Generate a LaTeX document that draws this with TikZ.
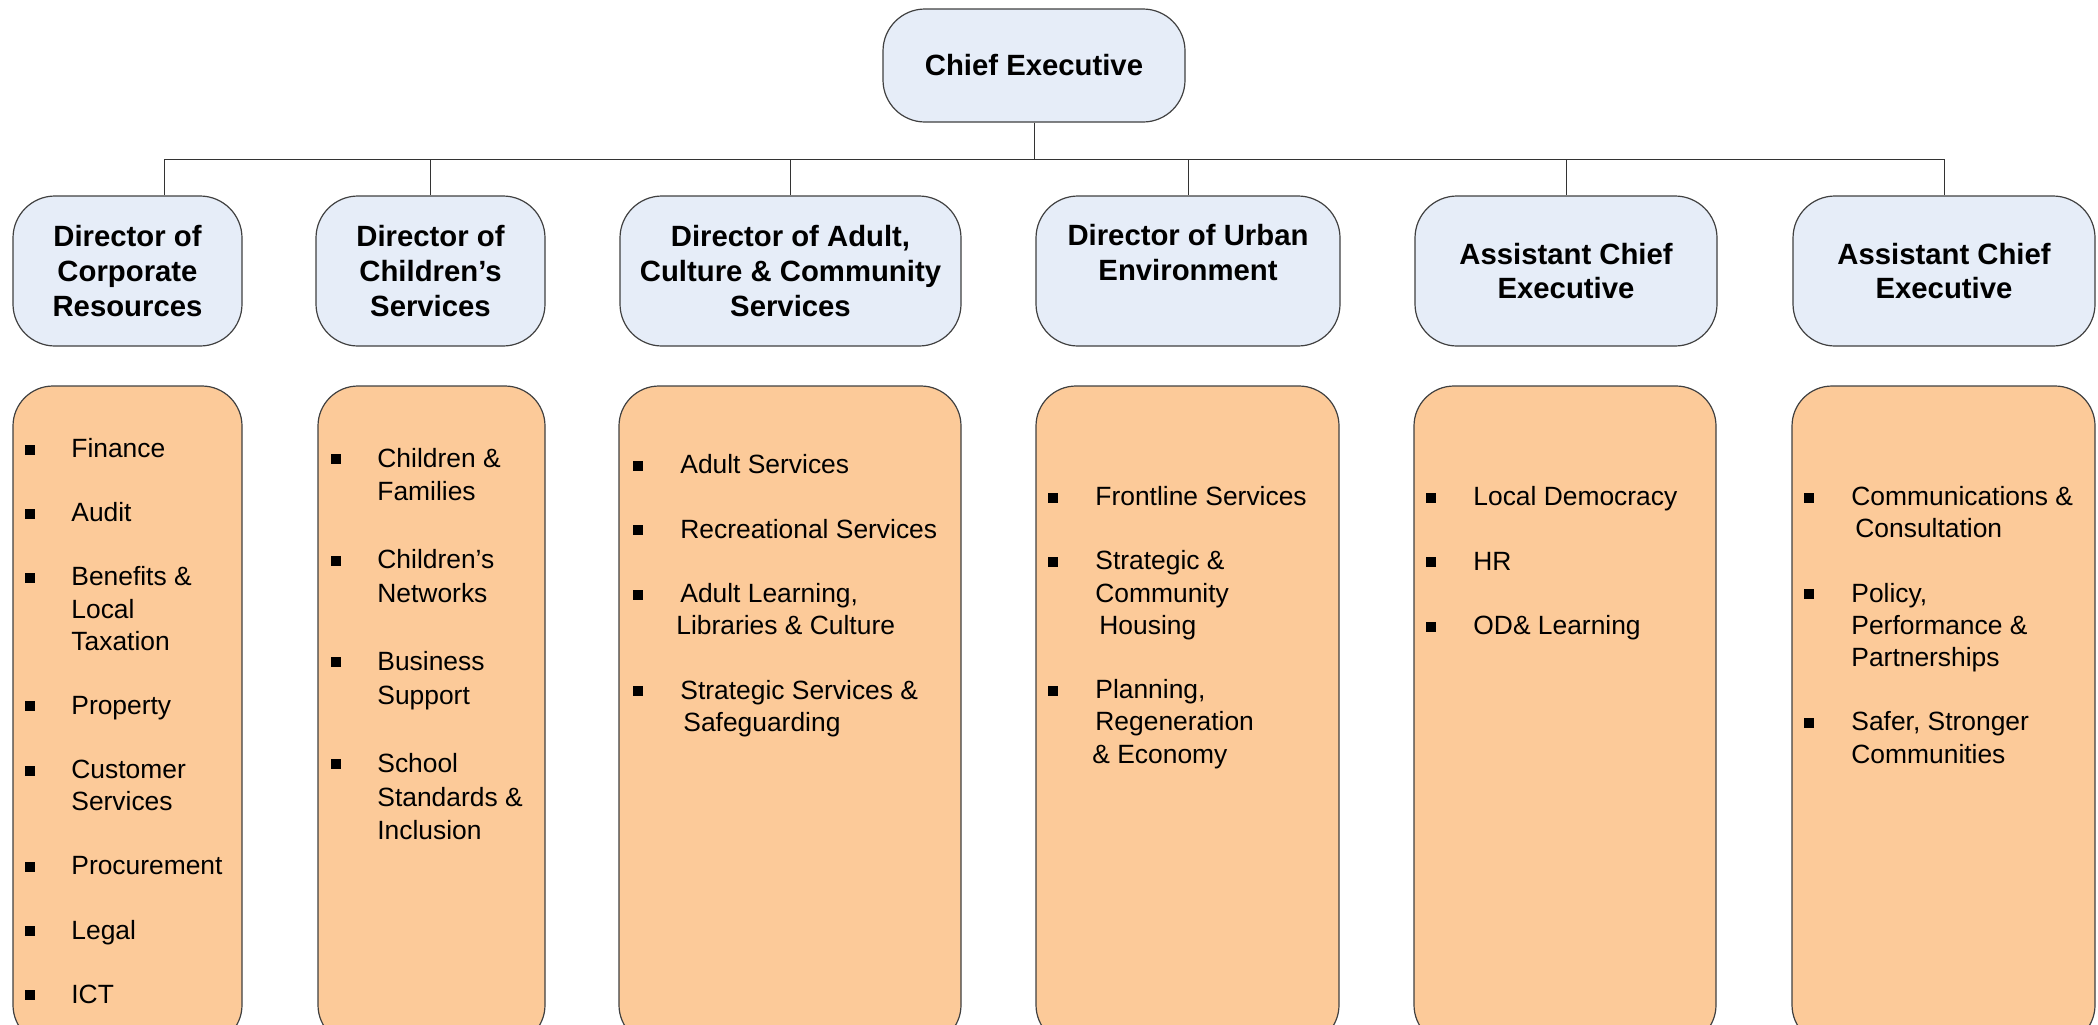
\documentclass[tikz,border=0pt]{standalone}
\usepackage{fontspec}
\setmainfont{Liberation Sans}
\usepackage{tikz}
\definecolor{hdblue}{RGB}{230,237,248}
\definecolor{lstorange}{RGB}{252,202,153}
\newcommand{\hdfont}{\fontsize{14.65}{17.4}\selectfont\bfseries}
\newcommand{\lsfont}[1]{\fontsize{13.2}{#1}\selectfont}
\newcommand{\lns}[1]{\begin{tabular}[t]{@{}l@{}}#1\end{tabular}}

\begin{document}
\begin{tikzpicture}[x=0.5pt,y=-0.5pt,
    hdbox/.style={draw=black!75,fill=hdblue,line width=0.6pt,rounded corners=21pt,
      minimum height=75pt,inner sep=0pt,align=center,font=\hdfont},
    lstbox/.style={draw=black!75,fill=lstorange,line width=0.6pt,rounded corners=20pt,
      minimum height=329.5pt,inner sep=0pt},
    blt/.style={fill=black,inner sep=0pt,minimum size=5pt},
    itm/.style={anchor=base west,inner sep=0pt},
    wire/.style={draw=black!80,line width=0.5pt}]
  \useasboundingbox (0,0) rectangle (2098,1024);
  \node[hdbox,minimum width=151pt,minimum height=56.5pt] (chief) at (1034,65.5) {Chief Executive};
  \foreach \n/\x/\w/\t in {1/127.5/114.5/{Director of\\Corporate\\Resources},
      2/430.5/114.5/{Director of\\Children’s\\Services},
      3/790.5/170.5/{Director of Adult,\\Culture \& Community\\Services},
      4/1188/152/{Director of Urban\\Environment\\[-4pt]\strut},
      5/1566/151/{Assistant Chief\\Executive},
      6/1944/151/{Assistant Chief\\Executive}}
    \node[hdbox,minimum width=\w pt] (d\n) at (\x,271) {\t};
  \coordinate (bus) at (1034,159);
  \draw[wire] (chief) -- (bus);
  \draw[wire] (bus) -| ([xshift=18.25pt]d1.north);
  \foreach \n in {2,...,6}
    \draw[wire] (bus) -| (d\n.north);
  \foreach \n/\x/\w in {1/127.5/114.5,2/431.5/113.5,3/790/171,4/1187.5/151.5,5/1565/151,6/1943.5/151.5}
    \node[lstbox,minimum width=\w pt] (l\n) at (\x,715.5) {};
  \foreach \y/\t [count=\k] in {457.5/Finance,521.7/Audit,585.9/{Benefits \&\\Local\\Taxation},
      714.3/Property,778.5/{Customer\\Services},874.8/Procurement,939/Legal,1003.2/ICT}{
    \node[blt] (b1\k) at (30,\y-8) {};
    \node[itm,font=\lsfont{16.05}] (t1\k) at (71,\y) {\lns{\t}};
  }
  \foreach \y/\t [count=\k] in {467/{Children \&\\Families},568.7/{Children’s\\Networks},
      670.4/{Business\\Support},772.1/{School\\Standards \&\\Inclusion}}{
    \node[blt] (b2\k) at (336,\y-8) {};
    \node[itm,font=\lsfont{16.95}] (t2\k) at (377,\y) {\lns{\t}};
  }
  \foreach \y/\t [count=\k] in {473.5/Adult Services,538/Recreational Services,
      602.5/{Adult Learning,\\\hspace*{-2pt}Libraries \& Culture},699.3/{Strategic Services \&\\\hspace*{1.5pt}Safeguarding}}{
    \node[blt] (b3\k) at (638,\y-8) {};
    \node[itm,font=\lsfont{16.1}] (t3\k) at (680,\y) {\lns{\t}};
  }
  \foreach \y/\t [count=\k] in {505.5/Frontline Services,569.9/{Strategic \&\\Community\\\hspace*{2pt}Housing},
      698.7/{Planning,\\Regeneration\\\hspace*{-1.5pt}\& Economy}}{
    \node[blt] (b4\k) at (1053,\y-8) {};
    \node[itm,font=\lsfont{16.1}] (t4\k) at (1095,\y) {\lns{\t}};
  }
  \foreach \y/\t [count=\k] in {505.5/Local Democracy,570/HR,634.5/OD\& Learning}{
    \node[blt] (b5\k) at (1431,\y-8) {};
    \node[itm,font=\lsfont{16.1}] (t5\k) at (1473,\y) {\lns{\t}};
  }
  \foreach \y/\t [count=\k] in {505.5/{Communications \&\\\hspace*{2pt}Consultation},
      602.1/{Policy,\\Performance \&\\Partnerships},730.9/{Safer, Stronger\\Communities}}{
    \node[blt] (b6\k) at (1809,\y-8) {};
    \node[itm,font=\lsfont{16.1}] (t6\k) at (1851,\y) {\lns{\t}};
  }
\end{tikzpicture}
\end{document}
